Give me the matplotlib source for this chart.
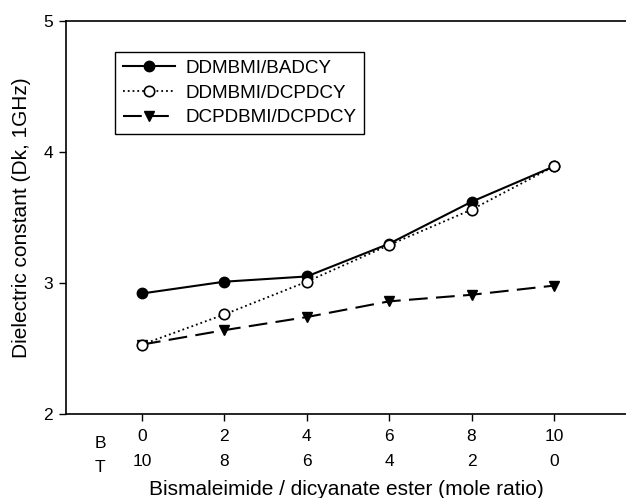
import matplotlib
matplotlib.use("Agg")
import matplotlib.pyplot as plt

plt.rcParams['font.family'] = ['Liberation Sans', 'DejaVu Sans']

# mole ratio B (bismaleimide) / T (dicyanate ester)
b_ratio = [0, 2, 4, 6, 8, 10]
t_ratio = [10, 8, 6, 4, 2, 0]

dk_ddm_badcy = [2.92, 3.01, 3.05, 3.30, 3.62, 3.89]
dk_ddm_dcpdcy = [2.53, 2.76, 3.01, 3.29, 3.56, 3.89]
dk_dcpd_dcpdcy = [2.53, 2.64, 2.74, 2.86, 2.91, 2.98]

fig = plt.figure(figsize=(6.26, 4.98), dpi=100)
ax = fig.add_axes([66/626, 1 - 414/498, 1 - 66/626, 393/498])

ax.plot(b_ratio, dk_ddm_badcy, '-', color='black', lw=1.5, marker='o', ms=7.5,
        mfc='black', mec='black', label='DDMBMI/BADCY', zorder=3)
ax.plot(b_ratio, dk_ddm_dcpdcy, ':', color='black', lw=1.3, marker='o', ms=7.5,
        mfc='white', mec='black', mew=1.2, label='DDMBMI/DCPDCY', zorder=4)
ax.plot(b_ratio, dk_dcpd_dcpdcy, color='black', lw=1.5, dashes=(9, 4), marker='v', ms=7.5,
        mfc='black', mec='black', label='DCPDBMI/DCPDCY', zorder=3)

ax.set_xlim(-1.845, 11.75)
ax.set_ylim(2, 5)
ax.set_yticks([2, 3, 4, 5])
ax.set_xticks(b_ratio)
ax.set_xticklabels([f"{b}\n{t}" for b, t in zip(b_ratio, t_ratio)], linespacing=1.8)
ax.tick_params(axis='both', direction='out', length=5, width=1, labelsize=12.5, pad=4.5)
ax.tick_params(axis='x', pad=6)
ax.spines['right'].set_visible(False)
for s in ['left', 'top', 'bottom']:
    ax.spines[s].set_linewidth(1.2)

ax.text(-1.02, -0.055, "B\nT", transform=ax.get_xaxis_transform(), ha='center', va='top',
        fontsize=12.5, linespacing=1.8)

ax.set_xlabel("Bismaleimide / dicyanate ester (mole ratio)", fontsize=15, labelpad=8)
ax.set_ylabel("Dielectric constant (Dk, 1GHz)", fontsize=15, labelpad=9)

leg = ax.legend(loc='upper left', bbox_to_anchor=(0.0875, 0.921), borderaxespad=0,
                fancybox=False, edgecolor='black', fontsize=13.6, handlelength=2.8,
                handletextpad=0.55, borderpad=0.4, labelspacing=0.4, framealpha=1)
leg.get_frame().set_linewidth(1.0)

fig.savefig("out.png", dpi=100)
